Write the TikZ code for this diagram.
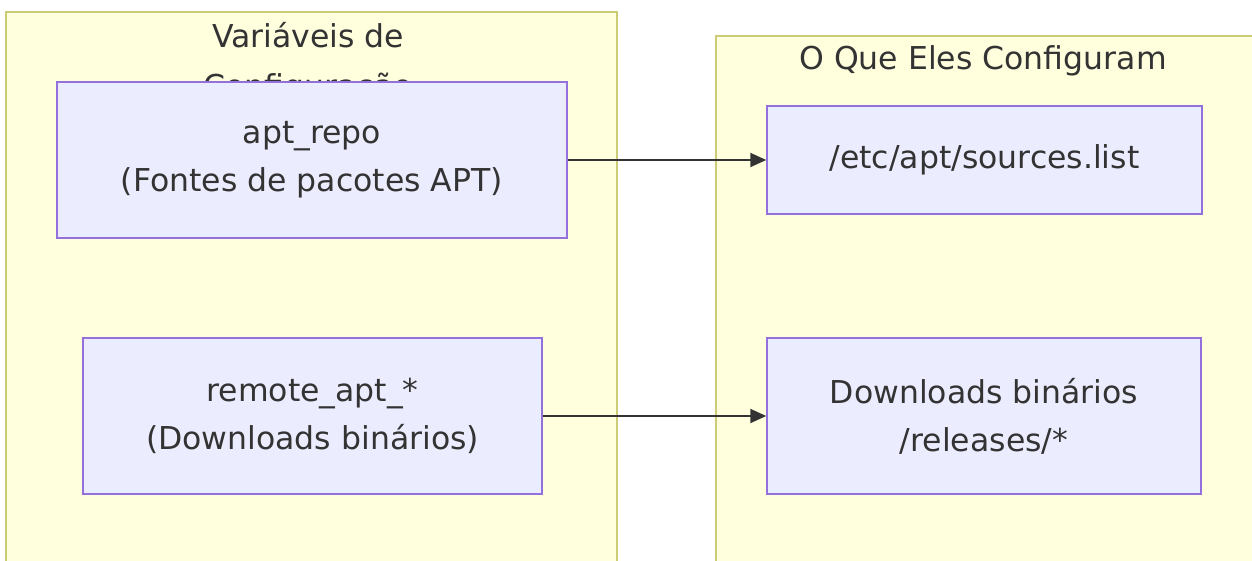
\documentclass[tikz,border=0pt]{standalone}
\usepackage{fontspec}
\setmainfont{DejaVu Sans}
\usetikzlibrary{arrows.meta}
\definecolor{clusterfill}{HTML}{FFFFDE}
\definecolor{clusterline}{HTML}{CCCC77}
\definecolor{boxfill}{HTML}{ECECFF}
\definecolor{boxline}{HTML}{9370DB}
\definecolor{textcol}{HTML}{333333}

\begin{document}
\begin{tikzpicture}[x=1pt,y=-1pt,
    cluster/.style={fill=clusterfill,draw=clusterline,line width=1.5pt},
    box/.style={fill=boxfill,draw=boxline,line width=1.5pt,text=textcol,align=center,
        inner sep=0pt,font=\fontsize{31.5}{48}\selectfont},
    title/.style={text=textcol,align=center,inner sep=0pt,font=\fontsize{31.5}{50}\selectfont},
    link/.style={draw=textcol,line width=2pt,-{Triangle[length=16pt,width=14pt]}}]
    \useasboundingbox (0,0) rectangle (1252,560);

    % clusters
    \draw[cluster] (6,12) rectangle (617,575);
    \draw[cluster] (716,36) rectangle (1275,575);
    \node[title] (vartitle) at (308,63) {Variáveis de\\Configuração};
    \node[title] (conftitle) at (983,61) {O Que Eles Configuram};

    % variables
    \node[box,minimum width=510pt,minimum height=156pt] (repo) at (312,160) {apt\_repo\\(Fontes de pacotes APT)};
    \node[box,minimum width=459pt,minimum height=156pt] (remote) at (312.5,416) {remote\_apt\_*\\(Downloads binários)};

    % targets
    \node[box,minimum width=435pt,minimum height=108pt] (sources) at (984.5,160) {/etc/apt/sources.list};
    \node[box,minimum width=434pt,minimum height=156pt] (binaries) at (984,416) {Downloads binários\\/releases/*};

    \draw[link] (repo) -- (sources);
    \draw[link] (remote) -- (binaries);
\end{tikzpicture}
\end{document}
